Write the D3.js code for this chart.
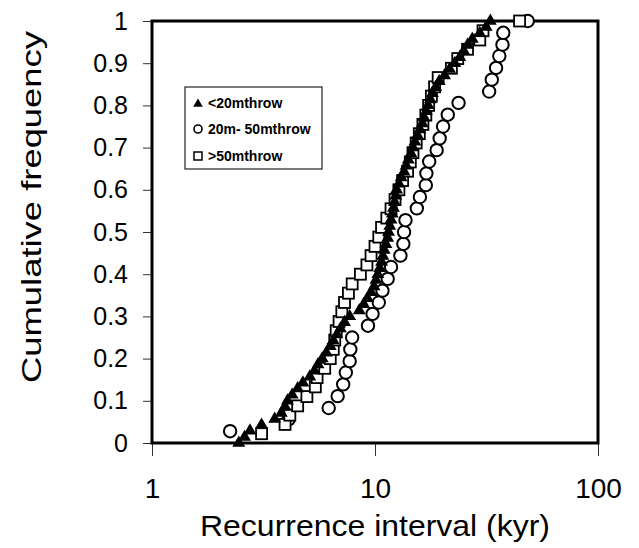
<!DOCTYPE html>
<html lang="en">
<head>
<meta charset="UTF-8">
<title>Cumulative frequency of recurrence intervals</title>
<style>
  body { margin: 0; background: #fff; }
  text { font-family: "Liberation Sans", Arial, sans-serif; fill: #000; }
</style>
</head>
<body>
<div id="my_dataviz"></div>
<script src="https://d3js.org/d3.v7.min.js"></script>
<script>

// data: [recurrence interval (kyr), cumulative frequency]
var lessThan20 = [
  [2.45, 0.000], [2.6, 0.014], [2.75, 0.029], [3.1, 0.043], [3.55, 0.057], [3.8, 0.071],
  [3.95, 0.086], [4.05, 0.100], [4.25, 0.114], [4.5, 0.129], [4.75, 0.143], [5.1, 0.157],
  [5.35, 0.171], [5.55, 0.186], [5.8, 0.200], [6.05, 0.214], [6.3, 0.229], [6.5, 0.243],
  [6.75, 0.257], [7.0, 0.271], [7.3, 0.286], [7.7, 0.300], [8.5, 0.314], [8.9, 0.329],
  [9.25, 0.343], [9.6, 0.357], [9.9, 0.371], [10.1, 0.386], [10.3, 0.400], [10.5, 0.414],
  [10.7, 0.429], [10.85, 0.443], [11.0, 0.457], [11.2, 0.471], [11.4, 0.486], [11.5, 0.500],
  [11.65, 0.514], [11.8, 0.529], [11.95, 0.543], [12.1, 0.557], [12.25, 0.571], [12.4, 0.586],
  [12.5, 0.600], [12.8, 0.614], [13.1, 0.629], [13.5, 0.643], [13.8, 0.657], [14.1, 0.671],
  [14.5, 0.686], [14.8, 0.700], [15.1, 0.714], [15.5, 0.729], [15.9, 0.743], [16.3, 0.757],
  [16.6, 0.771], [17.0, 0.786], [17.3, 0.800], [17.7, 0.814], [18.1, 0.829], [18.7, 0.843],
  [19.4, 0.857], [20.5, 0.871], [21.6, 0.886], [22.8, 0.900], [24.0, 0.914], [25.0, 0.929],
  [26.0, 0.943], [27.3, 0.957], [29.5, 0.971], [31.5, 0.986], [32.9, 1.000]
];

var from20to50 = [
  [2.24, 0.028], [4.1, 0.056], [6.2, 0.083], [6.8, 0.111], [7.2, 0.139], [7.4, 0.167],
  [7.7, 0.194], [7.75, 0.222], [7.9, 0.250], [9.3, 0.278], [9.75, 0.306], [10.4, 0.333],
  [10.8, 0.361], [11.4, 0.389], [11.8, 0.417], [13.0, 0.444], [13.4, 0.472], [13.5, 0.500],
  [13.7, 0.528], [15.4, 0.556], [15.9, 0.583], [16.9, 0.611], [17.0, 0.639], [17.5, 0.667],
  [18.9, 0.694], [19.5, 0.722], [20.2, 0.750], [21.2, 0.778], [23.7, 0.806], [32.5, 0.833],
  [33.4, 0.861], [34.9, 0.889], [36.1, 0.917], [37.3, 0.944], [37.6, 0.972], [48.4, 1.000]
];

var moreThan50 = [
  [3.1, 0.022], [3.95, 0.044], [4.15, 0.066], [4.5, 0.088], [4.95, 0.110], [5.4, 0.133],
  [5.5, 0.155], [5.95, 0.177], [6.3, 0.200], [6.5, 0.222], [6.6, 0.244], [6.7, 0.266],
  [6.9, 0.288], [7.1, 0.311], [7.3, 0.333], [7.6, 0.355], [7.9, 0.377], [8.6, 0.400],
  [9.2, 0.422], [9.6, 0.444], [10.0, 0.466], [10.4, 0.488], [10.7, 0.511], [11.3, 0.533],
  [11.8, 0.555], [12.3, 0.577], [12.8, 0.600], [13.3, 0.622], [14.0, 0.644], [14.4, 0.666],
  [14.8, 0.688], [15.3, 0.711], [15.8, 0.733], [16.4, 0.755], [16.9, 0.777], [17.4, 0.800],
  [17.9, 0.822], [18.5, 0.844], [19.2, 0.866], [22.0, 0.888], [23.5, 0.911], [26.0, 0.933],
  [29.5, 0.955], [30.5, 0.977], [44.5, 1.000]
];

var xTicks = [1, 10, 100];
var yTicks = [0, 0.1, 0.2, 0.3, 0.4, 0.5, 0.6, 0.7, 0.8, 0.9, 1];
var legendLabels = ["<20mthrow", "20m- 50mthrow", ">50mthrow"];

// set the dimensions of the graph
var width = 639, height = 548;
var plotLeft = 152, plotRight = 598, plotTop = 21, plotBottom = 443;

var svg = d3.select("#my_dataviz")
  .append("svg")
  .attr("width", width)
  .attr("height", height);

var x = d3.scaleLog().domain([1, 100]).range([plotLeft, plotRight]);
var y = d3.scaleLinear().domain([0, 1]).range([plotBottom, plotTop]);

// y axis: ticks and labels on the left
var yAxis = svg.append("g")
  .attr("transform", "translate(" + plotLeft + ",0)")
  .call(d3.axisLeft(y).tickValues(yTicks).tickSize(9).tickPadding(15)
    .tickFormat(function (d) { return d === 0 || d === 1 ? d3.format("d")(d) : d3.format(".1f")(d); }));
yAxis.select(".domain").remove();
yAxis.selectAll("line").attr("stroke", "#333").attr("stroke-width", 1);
yAxis.selectAll("text").style("font-size", "25px")
  .style("font-family", "'Liberation Sans', Arial, sans-serif");

// x axis (log)
var xAxis = svg.append("g")
  .attr("transform", "translate(0," + plotBottom + ")")
  .call(d3.axisBottom(x).tickValues(xTicks).tickSize(13).tickPadding(22)
    .tickFormat(d3.format("d")));
xAxis.select(".domain").remove();
xAxis.selectAll("line").attr("stroke", "#333").attr("stroke-width", 1);
xAxis.selectAll("text").style("font-size", "28px")
  .style("font-family", "'Liberation Sans', Arial, sans-serif");

// plot frame
svg.append("rect")
  .attr("x", plotLeft).attr("y", plotTop)
  .attr("width", plotRight - plotLeft).attr("height", plotBottom - plotTop)
  .attr("fill", "none").attr("stroke", "#000").attr("stroke-width", 3);

// axis titles
svg.append("text")
  .attr("x", (plotLeft + plotRight) / 2).attr("y", 536)
  .attr("text-anchor", "middle")
  .attr("textLength", 350).attr("lengthAdjust", "spacingAndGlyphs")
  .style("font-size", "30px")
  .text("Recurrence interval (kyr)");

svg.append("text")
  .attr("transform", "translate(41,207) rotate(-90)")
  .attr("text-anchor", "middle")
  .attr("textLength", 352).attr("lengthAdjust", "spacingAndGlyphs")
  .style("font-size", "28px")
  .text("Cumulative frequency");

// marker shapes
var tri = d3.symbol().type(d3.symbolTriangle);
function triangle(size) { return tri.size(size)(); }

// 20m-50m: open circles
svg.append("g").selectAll("circle")
  .data(from20to50).enter().append("circle")
  .attr("cx", function (d) { return x(d[0]); })
  .attr("cy", function (d) { return y(d[1]); })
  .attr("r", 6.2)
  .attr("fill", "#fff").attr("stroke", "#000").attr("stroke-width", 2);

// >50m: open squares
svg.append("g").selectAll("rect")
  .data(moreThan50).enter().append("rect")
  .attr("x", function (d) { return x(d[0]) - 5.5; })
  .attr("y", function (d) { return y(d[1]) - 5.5; })
  .attr("width", 11).attr("height", 11)
  .attr("fill", "#fff").attr("stroke", "#000").attr("stroke-width", 1.8);

// <20m: filled triangles
svg.append("g").selectAll("path")
  .data(lessThan20).enter().append("path")
  .attr("d", triangle(72))
  .attr("transform", function (d) { return "translate(" + x(d[0]) + "," + y(d[1]) + ")"; })
  .attr("fill", "#000");

// legend
var legend = svg.append("g").attr("transform", "translate(185,87)");
legend.append("rect")
  .attr("width", 137).attr("height", 82)
  .attr("fill", "#fff").attr("stroke", "#222").attr("stroke-width", 1.2);

var rows = [16, 42, 69];
legend.append("path").attr("d", triangle(40))
  .attr("transform", "translate(13," + (rows[0] + 1) + ")").attr("fill", "#000");
legend.append("circle").attr("cx", 13).attr("cy", rows[1]).attr("r", 4)
  .attr("fill", "#fff").attr("stroke", "#000").attr("stroke-width", 1.6);
legend.append("rect").attr("x", 9).attr("y", rows[2] - 4).attr("width", 8).attr("height", 8)
  .attr("fill", "#fff").attr("stroke", "#000").attr("stroke-width", 1.5);

legend.selectAll("text.lbl")
  .data(legendLabels).enter().append("text")
  .attr("class", "lbl")
  .attr("x", 23)
  .attr("y", function (d, i) { return rows[i] + 5; })
  .style("font-size", "14px").style("font-weight", "bold")
  .text(function (d) { return d; });

</script>
</body>
</html>
